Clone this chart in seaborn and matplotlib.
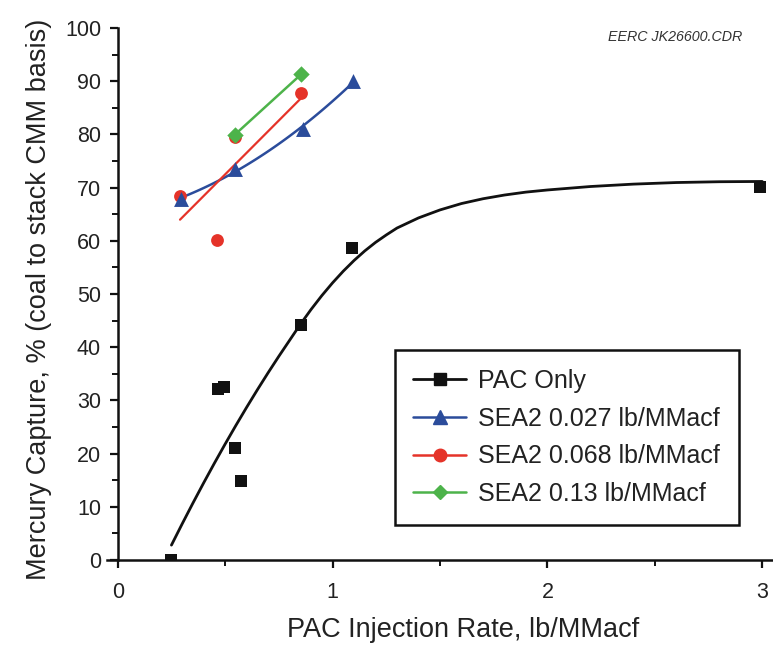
import numpy as np
import pandas as pd
import matplotlib
matplotlib.use("Agg")
import matplotlib.pyplot as plt
from matplotlib.lines import Line2D
from matplotlib.ticker import MultipleLocator
import seaborn as sns

# ---- data ----
pac_x = [0.25, 0.465, 0.495, 0.545, 0.572, 0.852, 1.09, 2.99]
pac_y = [0.0, 32.1, 32.6, 21.1, 14.8, 44.2, 58.6, 70.2]

# fitted curve for PAC only
fit_x = [0.25, 0.30, 0.35, 0.40, 0.45, 0.50, 0.55, 0.60, 0.65, 0.70, 0.75, 0.80,
         0.85, 0.90, 0.95, 1.00, 1.05, 1.10, 1.15, 1.20, 1.25, 1.30, 1.40, 1.50,
         1.60, 1.70, 1.80, 1.90, 2.00, 2.20, 2.40, 2.60, 2.80, 3.00]
fit_y = [2.8, 6.8, 10.7, 14.5, 18.2, 21.8, 25.3, 28.7, 32.0, 35.2, 38.3, 41.3,
         44.3, 47.1, 49.7, 52.1, 54.3, 56.3, 58.1, 59.7, 61.1, 62.4, 64.3, 65.8,
         67.0, 67.9, 68.6, 69.15, 69.55, 70.2, 70.65, 70.95, 71.1, 71.15]

sea027_x = [0.296, 0.544, 0.862, 1.095]
sea027_y = [67.9, 73.5, 81.0, 90.0]

sea068_x = [0.29, 0.462, 0.544, 0.854]
sea068_y = [68.5, 60.2, 79.6, 87.7]

sea13_x = [0.544, 0.854]
sea13_y = [79.9, 91.3]

labels = ["PAC Only", "SEA2 0.027 lb/MMacf", "SEA2 0.068 lb/MMacf", "SEA2 0.13 lb/MMacf"]
xlabel = "PAC Injection Rate, lb/MMacf"
ylabel = "Mercury Capture, % (coal to stack CMM basis)"
note = "EERC JK26600.CDR"

# ---- style ----
sns.set_theme(style="white")
plt.rcParams['font.family'] = ['Liberation Sans', 'DejaVu Sans']

BLACK = "#111111"
BLUE = "#2B4C9B"
RED = "#E53329"
GREEN = "#4DB34A"
TXT = "#222222"

fig = plt.figure(figsize=(7.73, 6.46), dpi=100)
ax = fig.add_axes([0.1384, 0.1331, 0.8616, 0.8236])

# PAC only
sns.lineplot(x=fit_x, y=fit_y, sort=False, estimator=None, color=BLACK, lw=2.0, ax=ax)
sns.scatterplot(x=pac_x, y=pac_y, marker="s", s=85, color=BLACK, edgecolor=BLACK,
                linewidth=0, ax=ax, zorder=5)

# SEA2 0.027 (smooth curve)
sns.regplot(x=np.array(sea027_x), y=np.array(sea027_y), order=2, ci=None, ax=ax,
            scatter=False, line_kws=dict(color=BLUE, lw=1.8))
sns.scatterplot(x=sea027_x, y=sea027_y, marker="^", s=115, color=BLUE, edgecolor=BLUE,
                linewidth=0, ax=ax, zorder=6)

# SEA2 0.068 (linear fit)
sns.regplot(x=np.array(sea068_x), y=np.array(sea068_y), order=1, ci=None, ax=ax,
            scatter=False, line_kws=dict(color=RED, lw=1.6))
sns.scatterplot(x=sea068_x, y=sea068_y, marker="o", s=85, color=RED, edgecolor=RED,
                linewidth=0, ax=ax, zorder=5)

# SEA2 0.13
sns.lineplot(x=sea13_x, y=sea13_y, sort=False, estimator=None, color=GREEN, lw=1.8, ax=ax)
sns.scatterplot(x=sea13_x, y=sea13_y, marker="D", s=70, color=GREEN, edgecolor=GREEN,
                linewidth=0, ax=ax, zorder=6)

# ---- axes ----
ax.set_xlim(-0.05, 3.05)
ax.set_ylim(0, 100)
ax.spines['left'].set_position(('data', 0))
for s in ['top', 'right']:
    ax.spines[s].set_visible(False)
for s in ['left', 'bottom']:
    ax.spines[s].set_color(BLACK)
    ax.spines[s].set_linewidth(1.8)

ax.xaxis.set_major_locator(MultipleLocator(1))
ax.xaxis.set_minor_locator(MultipleLocator(0.5))
ax.yaxis.set_major_locator(MultipleLocator(10))
ax.yaxis.set_minor_locator(MultipleLocator(5))
ax.tick_params(axis='both', which='major', direction='out', length=6, width=1.6,
               color=BLACK, labelsize=15.5, labelcolor=TXT)
ax.tick_params(axis='both', which='minor', direction='out', length=4, width=1.4, color=BLACK)
ax.tick_params(axis='y', which='major', pad=6)
ax.tick_params(axis='x', which='major', pad=10)
ax.tick_params(left=True, bottom=True, which='both')

ax.set_xlabel(xlabel, fontsize=19.5, color=TXT)
ax.set_ylabel(ylabel, fontsize=19.5, color=TXT)
ax.xaxis.set_label_coords(0.535, -0.107)
ax.yaxis.set_label_coords(-0.082, 0.49)
ax.grid(False)

ax.text(0.8536, 0.983, note, transform=ax.transAxes, fontsize=10.3, style='italic',
        color="#333333", ha='center', va='center')

handles = [
    Line2D([], [], color=BLACK, lw=2.0, marker="s", ms=9, mec=BLACK),
    Line2D([], [], color=BLUE, lw=1.8, marker="^", ms=10, mec=BLUE),
    Line2D([], [], color=RED, lw=1.8, marker="o", ms=9, mec=RED),
    Line2D([], [], color=GREEN, lw=1.8, marker="D", ms=7.5, mec=GREEN),
]
leg = ax.legend(handles, labels, loc='upper left', bbox_to_anchor=(0.432, 0.3947),
                fontsize=18, frameon=True, fancybox=False, edgecolor=BLACK,
                framealpha=1, handlelength=2.1, handletextpad=0.5, labelspacing=0.55,
                borderpad=0.75, borderaxespad=0)
leg.get_frame().set_linewidth(1.8)
for t in leg.get_texts():
    t.set_color(TXT)

fig.savefig("out.png", dpi=100)
